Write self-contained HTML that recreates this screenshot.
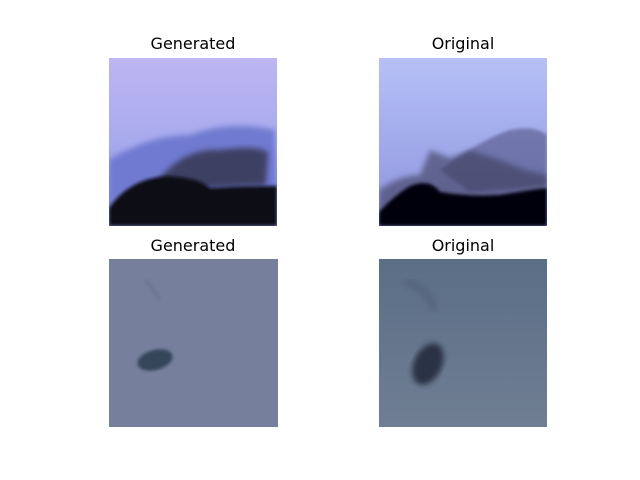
<!DOCTYPE html>
<html><head><meta charset="utf-8"><style>
html,body{margin:0;padding:0;background:#fff;}
svg{display:block;font-family:"DejaVu Sans","Liberation Sans",sans-serif;}
</style></head><body>
<svg width="640" height="480" viewBox="0 0 640 480">
<defs>
<linearGradient id="tlsky" x1="0" y1="0" x2="0" y2="1">
<stop offset="0" stop-color="#bdb6f2"/><stop offset="0.5" stop-color="#a8aaee"/><stop offset="1" stop-color="#7d86d8"/></linearGradient>
<linearGradient id="trsky" x1="0" y1="0" x2="0" y2="1">
<stop offset="0" stop-color="#b6c0f6"/><stop offset="0.6" stop-color="#9ea6e8"/><stop offset="1" stop-color="#8a90dc"/></linearGradient>
<linearGradient id="brsky" x1="0" y1="0" x2="0" y2="1">
<stop offset="0" stop-color="#5a6e86"/><stop offset="1" stop-color="#707e93"/></linearGradient>
<filter id="blur3"><feGaussianBlur stdDeviation="3"/></filter>
<filter id="blur2"><feGaussianBlur stdDeviation="1.5"/></filter>
<clipPath id="ctl"><rect x="109" y="58" width="168" height="168"/></clipPath>
<clipPath id="ctr"><rect x="379" y="58" width="168" height="168"/></clipPath>
<clipPath id="cbl"><rect x="109" y="259" width="169" height="168"/></clipPath>
<clipPath id="cbr"><rect x="379" y="259" width="168" height="168"/></clipPath>
</defs>

<text x="193" y="49" text-anchor="middle" font-size="16">Generated</text>
<text x="463" y="49" text-anchor="middle" font-size="16">Original</text>
<text x="193" y="251" text-anchor="middle" font-size="16">Generated</text>
<text x="463" y="251" text-anchor="middle" font-size="16">Original</text>

<g clip-path="url(#ctl)">
<rect x="109" y="58" width="168" height="168" fill="url(#tlsky)"/>
<path d="M109 160 Q150 135 190 135 Q230 120 275 130 L277 226 L109 226Z" fill="#6f7ad0" filter="url(#blur3)"/>
<path d="M160 178 Q185 148 220 150 Q255 145 268 152 L266 185 L160 190Z" fill="#3c3f64" filter="url(#blur3)"/>
<path d="M109 208 Q130 178 168 176 Q200 178 210 188 Q240 186 277 186 L277 226 L109 226Z" fill="#0c0c14" filter="url(#blur2)"/>
</g>

<g clip-path="url(#ctr)">
<rect x="379" y="58" width="168" height="168" fill="url(#trsky)"/>
<path d="M440 170 Q480 140 510 130 Q535 125 547 135 L547 185 L470 192Z" fill="#4a4e7a" opacity="0.55" filter="url(#blur2)"/>
<path d="M379 190 Q400 175 420 175 L430 150 L450 158 L470 150 L500 160 L525 170 L547 175 L547 226 L379 226Z" fill="#3a3a58" opacity="0.6" filter="url(#blur3)"/>
<path d="M379 212 Q395 195 410 186 Q430 178 440 192 Q470 197 500 195 Q530 190 547 188 L547 226 L379 226Z" fill="#06060c" filter="url(#blur2)"/>
</g>

<g clip-path="url(#cbl)">
<rect x="109" y="259" width="169" height="168" fill="#76809c"/>
<path d="M145 280 Q155 290 160 300" stroke="#6e7592" stroke-width="4" fill="none" filter="url(#blur2)"/>
<ellipse cx="155" cy="360" rx="18" ry="10" fill="#34445a" filter="url(#blur2)" transform="rotate(-15 155 360)"/>
</g>

<g clip-path="url(#cbr)">
<rect x="379" y="259" width="168" height="168" fill="url(#brsky)"/>
<path d="M405 282 Q425 285 435 310" stroke="#4e5c72" stroke-width="8" fill="none" opacity="0.5" filter="url(#blur3)"/>
<ellipse cx="428" cy="364" rx="14" ry="22" fill="#2a3244" filter="url(#blur3)" transform="rotate(25 428 364)"/>
</g>
</svg>
</body></html>
